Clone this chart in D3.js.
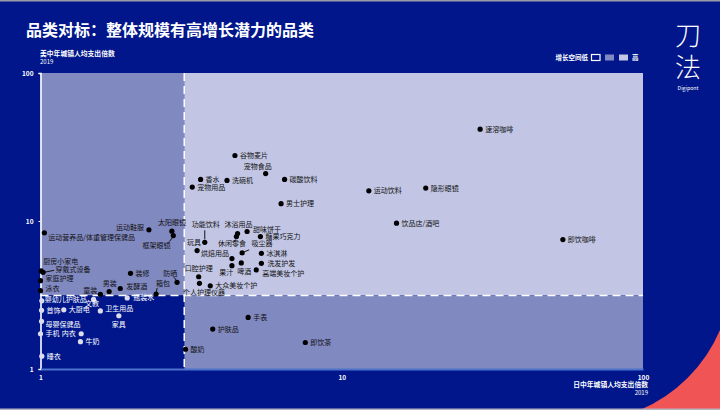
<!DOCTYPE html>
<html><head><meta charset="utf-8">
<script src="https://cdn.jsdelivr.net/npm/d3@7/dist/d3.min.js"></script>
<style>body{margin:0;background:#fff}svg{display:block}text{font-family:"Noto Sans CJK SC","Noto Sans",sans-serif}</style>
</head><body><svg id="c" width="720" height="410"></svg>
<script>
// ---------- data ----------
const title = "品类对标：整体规模有高增长潜力的品类";
const yTitle = "美中年城镇人均支出倍数";
const xTitle = "日中年城镇人均支出倍数";
const yearLabel = "2019";
const tickValues = [1, 10, 100];
const xThreshold = 3;
const yThreshold = 3.14;
const legendLow = "增长空间低", legendHigh = "高";

const categories = ["速溶咖啡","隐形眼镜","运动饮料","饮品店/酒吧","即饮咖啡","谷物麦片","宠物食品","香水","洗碗机","碳酸饮料","宠物用品","男士护理",
 "功能饮料","沐浴用品","甜味饼干","糖果巧克力","玩具","休闲零食","吸尘器","烘焙用品","冰淇淋","果汁","啤酒","洗发护发","高端美妆个护","口腔护理","个人护理仪器","大众美妆个护",
 "运动鞋服","太阳眼镜","框架眼镜","运动营养品/体重管理保健品","厨房小家电","穿戴式设备","家庭护理","泳衣","装修","防晒","男装","发酵酒","箱包","童装",
 "婴幼儿护肤品","文教","瓶装水","首饰","大厨电","卫生用品","家具","母婴保健品","手机","内衣","牛奶","睡衣",
 "酸奶","护肤品","手表","即饮茶"];
const chinaVsJapan = [28.8,19.0,12.3,15.2,54.2,4.42,5.59,3.40,4.16,6.46,3.19,6.29,
 3.51,4.51,4.85,5.37,3.31,4.47,4.67,4.32,5.41,4.32,4.64,5.41,5.20,3.35,3.37,3.66,
 2.29,2.73,2.76,1.03,1.005,1.02,1.0,1.0,1.99,2.84,1.69,1.84,2.42,1.58,
 1.01,1.50,1.94,1.008,1.195,1.58,1.82,1.008,1.0,1.365,1.357,1.01,
 3.03,3.73,4.89,7.57];
const chinaVsUS = [41.7,16.7,16.0,9.67,7.49,27.7,20.9,19.1,18.8,19.1,16.95,13.1,
 7.18,8.23,8.49,7.85,6.31,7.85,6.09,5.57,6.05,4.99,5.21,5.18,4.67,4.20,3.79,3.65,
 8.72,8.53,7.97,8.32,4.60,4.50,3.95,3.38,4.43,3.85,3.34,3.50,3.21,3.2,
 2.89,2.95,3.02,2.49,2.51,2.47,2.29,2.10,1.73,1.73,1.53,1.22,
 1.36,1.86,2.23,1.51];

// ---------- label layout (offsets from point, not data) ----------
const labelLayout = {
 "宠物食品":[-22,-5,"start"],
 "功能饮料":[1,-15,"middle",[0,-12,0,-3]],
 "沐浴用品":[1,-6.5,"middle"],
 "甜味饼干":[6,0,"start"],
 "玩具":[-3,-5.5,"middle"],
 "休闲零食":[-4.5,9.5,"middle",[-1,3,-3,6]],
 "吸尘器":[9.3,-7,"start",[2,-1,7,-3]],
 "烘焙用品":[-3,-2.5,"end"],
 "果汁":[-5.7,9.5,"middle"],
 "啤酒":[3,11,"middle"],
 "洗发护发":[6,2.5,"start"],
 "高端美妆个护":[6,6,"start"],
 "口腔护理":[0,-5.5,"middle"],
 "个人护理仪器":[4.5,11.5,"middle"],
 "运动鞋服":[-5,0.5,"end"],
 "太阳眼镜":[0,-6,"middle"],
 "框架眼镜":[-16.7,12.5,"middle",[0,1,-4,6]],
 "运动营养品/体重管理保健品":[4,7,"start"],
 "厨房小家电":[2,-6.5,"start"],
 "穿戴式设备":[12.5,-0.5,"start",[1,0,11,-2]],
 "家庭护理":[5,0.5,"start"],
 "泳衣":[5,0.5,"start"],
 "防晒":[-6.7,-6,"middle",[0,-1,-3,-5]],
 "男装":[0.5,-5,"middle"],
 "发酵酒":[6,0.5,"start"],
 "箱包":[0,-8,"start",[0,-1,1,-6]],
 "童装":[-3,-1.5,"end"],
 "婴幼儿护肤品":[3,1,"start"],
 "文教":[-1.5,7,"middle"],
 "瓶装水":[6,2.5,"start"],
 "卫生用品":[5,0.5,"start"],
 "家具":[0,11.5,"middle"],
 "母婴保健品":[4,5.5,"start"],
 "内衣":[-5.5,2.5,"end"]
};

// ---------- drawing ----------
const W = 720, H = 410;
const svg = d3.select("#c");
const navy = "#00168a", mid = "#8189c1", light = "#c2c6e4";

svg.append("rect").attr("width",W).attr("height",H).attr("fill","#f05454");
svg.append("path").attr("d","M0,0H720V330A151,151 0 0 1 640,410H0Z").attr("fill",navy);
svg.append("rect").attr("width",W).attr("height",1.5).attr("fill","#9a9aa8");
svg.append("rect").attr("y",H-1.5).attr("width",W).attr("height",1.5).attr("fill","#b4b4c0");

const x = d3.scaleLog().domain([1,100]).range([40.5,643]);
const y = d3.scaleLog().domain([1,100]).range([369,73]);

const x0 = x(1), x1 = x(100), y0 = y(100), y1 = y(1);
const xt = x(xThreshold), yt = y(yThreshold);
svg.append("rect").attr("x",x0).attr("y",y0).attr("width",xt-x0).attr("height",yt-y0).attr("fill",mid);
svg.append("rect").attr("x",xt).attr("y",y0).attr("width",x1-xt).attr("height",yt-y0).attr("fill",light);
svg.append("rect").attr("x",xt).attr("y",yt).attr("width",x1-xt).attr("height",y1-yt).attr("fill",mid);
svg.append("rect").attr("x",x0).attr("y",yt).attr("width",xt-x0).attr("height",y1-yt).attr("fill",navy);

svg.append("line").attr("x1",xt).attr("x2",xt).attr("y1",y0).attr("y2",y1)
  .attr("stroke","#fff").attr("stroke-width",1.5).attr("stroke-dasharray","8,5");
svg.append("line").attr("x1",x0).attr("x2",x1).attr("y1",yt).attr("y2",yt)
  .attr("stroke","#fff").attr("stroke-width",1.5).attr("stroke-dasharray","8,5");

// axes
const fmt = d => String(d);
const yAxis = svg.append("g").attr("transform",`translate(${x0},0)`)
  .call(d3.axisLeft(y).tickValues(tickValues).tickFormat(fmt).tickSize(2).tickPadding(5));
yAxis.select(".domain").attr("stroke","#fff").attr("stroke-width",1.6);
yAxis.selectAll(".tick line").attr("stroke","#fff");
yAxis.selectAll("text").attr("fill","#fff").attr("font-size",6.5).attr("font-weight","bold");

const xAxis = svg.append("g").attr("transform",`translate(0,${y1})`)
  .call(d3.axisBottom(x).tickValues(tickValues).tickFormat(fmt).tickSize(0).tickPadding(6));
xAxis.select(".domain").attr("stroke","#4d73cc").attr("stroke-width",2);
xAxis.selectAll("text").attr("fill","#fff").attr("font-size",6.5).attr("font-weight","bold");

// titles
svg.append("text").attr("x",26).attr("y",36).attr("fill","#fff").attr("font-size",16).attr("font-weight","bold").text(title);
svg.append("text").attr("x",40).attr("y",56).attr("fill","#fff").attr("font-size",6.8).attr("font-weight","bold").text(yTitle);
svg.append("text").attr("x",40).attr("y",64).attr("fill","#fff").attr("font-size",6).text(yearLabel);
svg.append("text").attr("x",648).attr("y",387).attr("text-anchor","end").attr("fill","#fff").attr("font-size",6.8).attr("font-weight","bold").text(xTitle);
svg.append("text").attr("x",648).attr("y",395).attr("text-anchor","end").attr("fill","#fff").attr("font-size",6).text(yearLabel);

// legend
const lg = svg.append("g");
lg.append("text").attr("x",588).attr("y",60).attr("text-anchor","end").attr("fill","#fff").attr("font-size",6.5).attr("font-weight","bold").text(legendLow);
lg.append("rect").attr("x",591.5).attr("y",54.5).attr("width",8.5).attr("height",6).attr("fill",navy).attr("stroke","#fff").attr("stroke-width",1.2);
lg.append("rect").attr("x",605).attr("y",54.5).attr("width",9).attr("height",6).attr("fill",mid);
lg.append("rect").attr("x",619).attr("y",54.5).attr("width",9).attr("height",6).attr("fill",light);
lg.append("text").attr("x",632).attr("y",60).attr("fill","#fff").attr("font-size",6.5).attr("font-weight","bold").text(legendHigh);

// logo
svg.append("text").attr("x",688).attr("y",45).attr("text-anchor","middle").attr("fill","#fff").attr("font-size",26).attr("font-weight",300).text("刀");
svg.append("text").attr("x",688).attr("y",77).attr("text-anchor","middle").attr("fill","#fff").attr("font-size",26).attr("font-weight",300).text("法");
svg.append("text").attr("x",688).attr("y",90).attr("text-anchor","middle").attr("fill","#fff").attr("font-size",5.2).text("Digipont");

// points
const pts = categories.map((c,i)=>({name:c, vx:chinaVsJapan[i], vy:chinaVsUS[i]}));
const isLow = d => d.vx < xThreshold && d.vy < yThreshold;
const g = svg.append("g");
pts.forEach(d=>{
  const px = x(d.vx), py = y(d.vy);
  const L = labelLayout[d.name] || [5,2.5,"start"];
  const col = isLow(d) ? "#ffffff" : "#111111";
  if (L[3]) {
    g.append("line").attr("x1",px+L[3][0]).attr("y1",py+L[3][1]).attr("x2",px+L[3][2]).attr("y2",py+L[3][3])
      .attr("stroke",col).attr("stroke-width",1);
  }
  g.append("circle").attr("cx",px).attr("cy",py).attr("r",2.6).attr("fill",isLow(d)?"#dcdcec":"#000");
  g.append("text").attr("x",px+L[0]).attr("y",py+L[1]).attr("text-anchor",L[2])
    .attr("fill",col).attr("font-size",7).text(d.name);
});
</script></body></html>
